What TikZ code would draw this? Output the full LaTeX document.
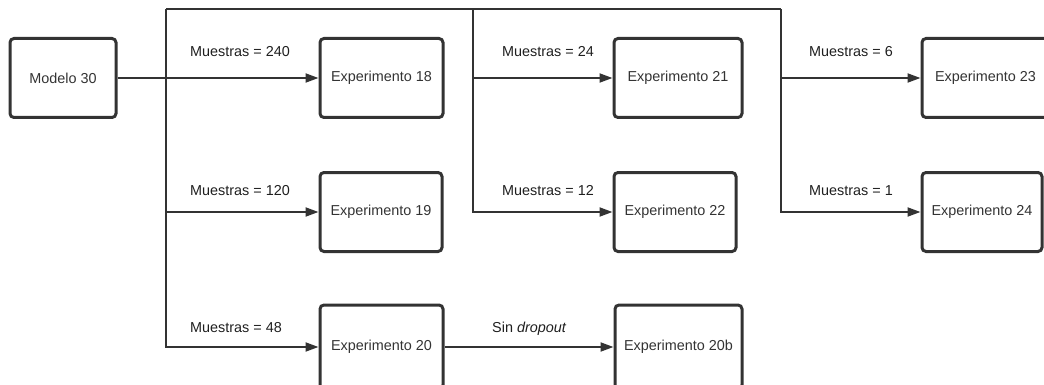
\documentclass[tikz,border=0pt]{standalone}
\usepackage{fontspec}
\setmainfont{Liberation Sans}
\usetikzlibrary{arrows.meta}
\definecolor{boxline}{RGB}{51,51,51}
\definecolor{conline}{RGB}{51,51,51}
\definecolor{boxtext}{RGB}{51,51,51}
\tikzset{
  expbox/.style={draw=boxline, line width=3pt, rounded corners=4pt, minimum height=79pt,
    inner sep=0pt, text=boxtext, font=\fontsize{14.4}{17}\selectfont},
  conn/.style={draw=conline, line width=2pt},
  arr/.style={conn, -{Triangle[length=13pt,width=9pt]}},
  lbl/.style={anchor=base west, inner sep=0pt, text=black!88, font=\fontsize{14.4}{17}\selectfont}
}
\begin{document}
\begin{tikzpicture}[x=1pt,y=-1pt]
\useasboundingbox (0,0) rectangle (1044,385);
% boxes
\node[expbox, minimum width=106pt] (m) at (63,78) {Modelo 30};
\node[expbox, minimum width=123pt] (e18) at (381.5,78) {Experimento 18};
\node[expbox, minimum width=122pt] (e19) at (381,212) {Experimento 19};
\node[expbox, minimum width=123pt, minimum height=84pt] (e20) at (381.5,347) {Experimento 20};
\node[expbox, minimum width=128pt] (e21) at (678,78) {Experimento 21};
\node[expbox, minimum width=122pt] (e22) at (675,212) {Experimento 22};
\node[expbox, minimum width=127pt, minimum height=84pt] (e20b) at (678.5,347) {Experimento 20b};
\node[expbox, minimum width=127pt] (e23) at (985.5,78) {Experimento 23};
\node[expbox, minimum width=120pt] (e24) at (982,212) {Experimento 24};
% junction coordinates
\coordinate (tl) at (166,9);
\coordinate (tm) at (473,9);
\coordinate (tr) at (781,9);
% connectors
\draw[arr] (m.east) -- (e18.west);
\draw[conn] (tl) -- (tr);
\draw[arr] (tl) -- (tl |- e20.west) -- (e20.west);
\draw[arr] (tl |- e19.west) -- (e19.west);
\draw[arr] (tm) -- (tm |- e22.west) -- (e22.west);
\draw[arr] (tm |- e21.west) -- (e21.west);
\draw[arr] (tr) -- (tr |- e24.west) -- (e24.west);
\draw[arr] (tr |- e23.west) -- (e23.west);
\draw[arr] (e20.east) -- (e20b.west);
% labels
\node[lbl] (l240) at (190,57) {Muestras = 240};
\node[lbl] (l120) at (190,195) {Muestras = 120};
\node[lbl] (l48) at (190,332) {Muestras = 48};
\node[lbl] (l24) at (502,57) {Muestras = 24};
\node[lbl] (l12) at (502,195) {Muestras = 12};
\node[lbl] (l6) at (809,57) {Muestras = 6};
\node[lbl] (l1) at (809,195) {Muestras = 1};
\node[lbl] (lsd) at (492,332) {Sin \textit{dropout}};
\end{tikzpicture}
\end{document}
